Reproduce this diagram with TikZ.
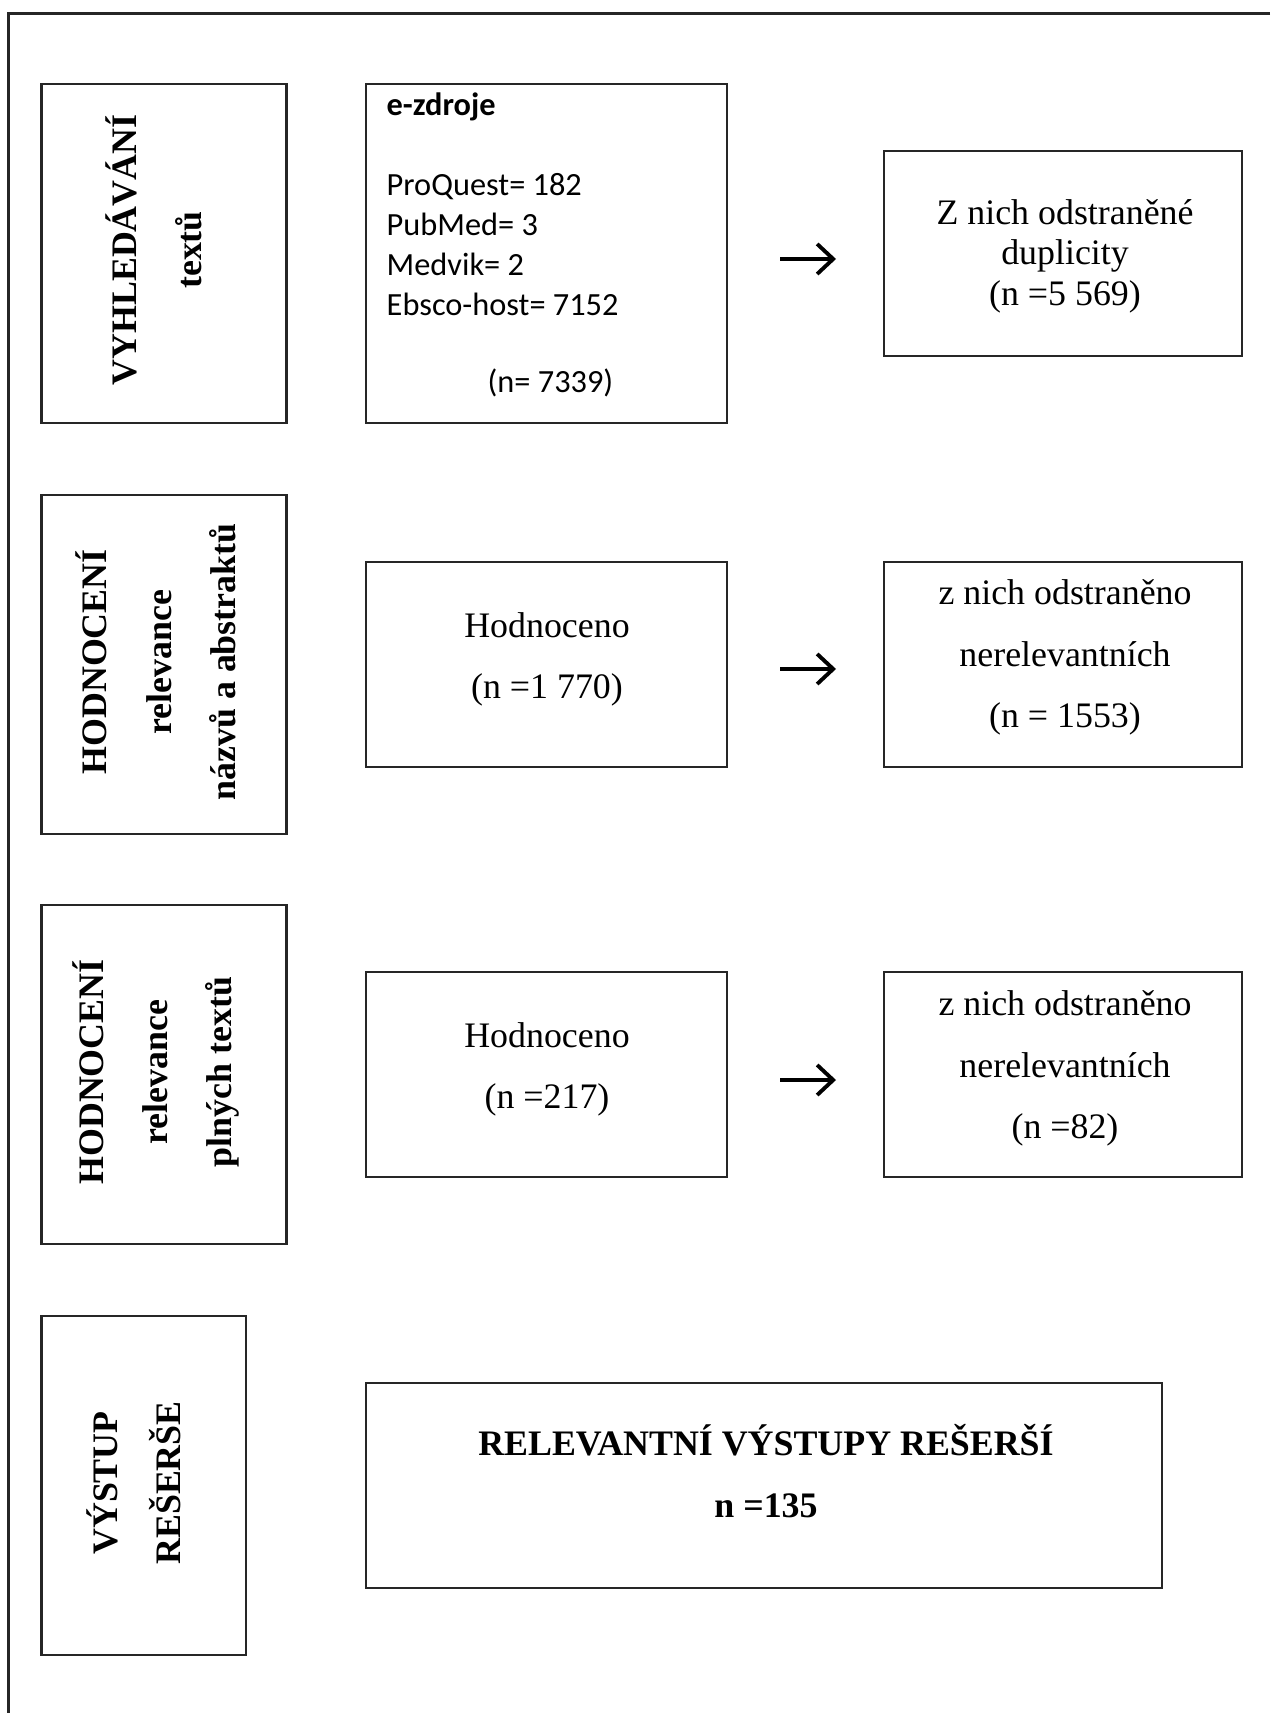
\documentclass[tikz,border=0pt]{standalone}
\usepackage{fontspec}
\setmainfont{Liberation Serif}
\newfontfamily\calibri{Carlito}
\usetikzlibrary{arrows.meta}

\begin{document}
\begin{tikzpicture}[x=0.01cm,y=-0.01cm,
    box/.style={draw=black!85, line width=0.65pt, inner sep=0pt},
    txt/.style={align=center, font=\fontsize{10.2}{17.4}\selectfont},
    side/.style={rotate=90, align=center, font=\bfseries\fontsize{10.2}{18.3}\selectfont},
    arr/.style={line width=1.1pt, -{Straight Barb[length=1.6mm,width=3mm]}}]
    \useasboundingbox (0,0) rectangle (1270,1713);
    \draw[black!85, line width=0.65pt] (1270,13.5) -- (8.5,13.5) -- (8.5,1713);

\foreach \n\y in {1/253.5,2/664.5,3/1074.5}{
    \node[box, minimum width=2.45cm, minimum height=3.39cm] (krok\n) at (164,\y) {};
}
    \node[box, minimum width=2.045cm, minimum height=3.39cm] (krok4) at (143.8,1485.5) {};

    \node[side] (krok1t) at (154,250) {VYHLEDÁVÁNÍ\\textů};
    \node[side] (krok2t) at (156,662) {HODNOCENÍ\\relevance\\názvů a abstraktů};
    \node[side] (krok3t) at (156,1072) {HODNOCENÍ\\relevance\\plných textů};
    \node[side, font=\bfseries\fontsize{10.2}{17.8}\selectfont] (krok4t) at (134,1483) {VÝSTUP\\REŠERŠE};

    \node[box, minimum width=3.61cm, minimum height=3.39cm] (zdroje) at (546.5,253.5) {};
    \node[anchor=north west, inner sep=0pt, align=left,
        font=\calibri\fontsize{9.2}{11.4}\selectfont] (zdrojet) at (386,92.5)
        {\textbf{e-zdroje}\\[11.1pt]ProQuest= 182\\PubMed= 3\\Medvik= 2\\Ebsco-host= 7152\\[10.5pt]\hspace*{28.7pt}(n= 7339)};

    \node[box, minimum width=3.58cm, minimum height=2.05cm] (dupl) at (1063,253.5) {};
    \node[txt, font=\fontsize{10.2}{11.5}\selectfont] (duplt) at (1065,256) {Z nich odstraněné\\duplicity\\(n =5 569)};

    \node[box, minimum width=3.61cm, minimum height=2.05cm] (hodn1) at (546.5,664.5) {};
    \node[txt] (hodn1t) at (547,659) {Hodnoceno\\(n =1 770)};
    \node[box, minimum width=3.58cm, minimum height=2.05cm] (nerel1) at (1063,664.5) {};
    \node[txt] (nerel1t) at (1065,657.5) {z nich odstraněno\\nerelevantních\\(n = 1553)};

    \node[box, minimum width=3.61cm, minimum height=2.05cm] (hodn2) at (546.5,1074.5) {};
    \node[txt] (hodn2t) at (547,1069) {Hodnoceno\\(n =217)};
    \node[box, minimum width=3.58cm, minimum height=2.05cm] (nerel2) at (1063,1074.5) {};
    \node[txt] (nerel2t) at (1065,1068.5) {z nich odstraněno\\nerelevantních\\(n =82)};

    \node[box, minimum width=7.96cm, minimum height=2.05cm] (vystup) at (764,1485.5) {};
    \node[txt, font=\bfseries\fontsize{10.2}{17.6}\selectfont] (vystupt) at (766,1471) {RELEVANTNÍ VÝSTUPY REŠERŠÍ\\n =135};

\foreach \y [count=\i] in {259,669,1080}{
    \coordinate (z\i) at (780,\y);
    \coordinate (k\i) at (836,\y);
    \draw[arr] (z\i) -- (k\i);
}
\end{tikzpicture}
\end{document}
